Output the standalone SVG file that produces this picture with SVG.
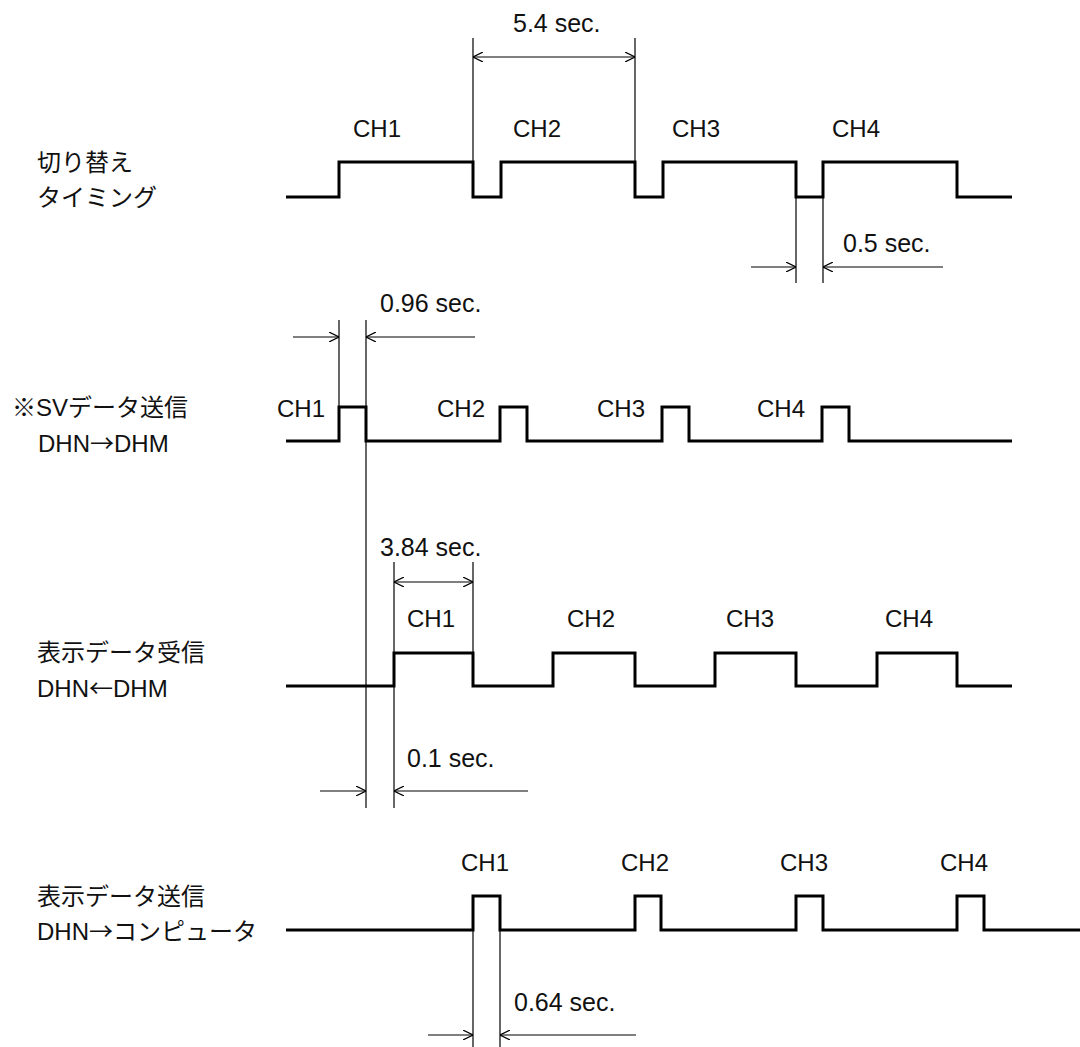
<svg xmlns="http://www.w3.org/2000/svg" width="1080" height="1047" viewBox="0 0 1080 1047">
<style>
.wave{fill:none;stroke:#000;stroke-width:3;stroke-linejoin:miter;stroke-linecap:butt}
.dim{fill:none;stroke:#000;stroke-width:1.2}
.lbl{font-family:"Liberation Sans","Noto Sans CJK JP",Arial,sans-serif;font-size:24px;fill:#111}
.sec{font-family:"Liberation Sans",Arial,sans-serif;font-size:25px;fill:#111}
.jp{font-family:"Liberation Sans","Noto Sans CJK JP",sans-serif;font-size:24px;fill:#111}
.arw{font-family:"Noto Sans CJK JP",sans-serif}
</style>
<defs>
<marker id="ah" viewBox="0 0 10 10" refX="10" refY="5" markerWidth="10" markerHeight="10" markerUnits="userSpaceOnUse" orient="auto-start-reverse">
<path d="M0,0 L10,5 L0,10" fill="none" stroke="#000" stroke-width="1.2"/>
</marker>
</defs>
<rect width="1080" height="1047" fill="#fff"/>

<g id="labels">
<text class="jp" x="37" y="171">切り替え</text>
<text class="jp" x="37" y="206">タイミング</text>
<text class="jp" x="12" y="416">※SVデータ送信</text>
<text class="jp" x="38" y="452">DHN<tspan class="arw">→</tspan>DHM</text>
<text class="jp" x="37" y="661">表示データ受信</text>
<text class="jp" x="37" y="697">DHN<tspan class="arw">←</tspan>DHM</text>
<text class="jp" x="37" y="905">表示データ送信</text>
<text class="jp" x="37" y="940">DHN<tspan class="arw">→</tspan>コンピュータ</text>
</g>

<g id="row1">
<path class="wave" d="M286,197 H339 V162 H473 V197 H501 V162 H635 V197 H663 V162 H796 V197 H823 V162 H957 V197 H1012"/>
<text class="lbl" x="353" y="137">CH1</text>
<text class="lbl" x="513" y="137">CH2</text>
<text class="lbl" x="672" y="137">CH3</text>
<text class="lbl" x="832" y="137">CH4</text>
</g>

<g id="row2">
<path class="wave" d="M286,441 H339 V407 H366 V441 H500 V407 H527 V441 H662 V407 H689 V441 H822 V407 H849 V441 H1012"/>
<text class="lbl" x="277" y="417">CH1</text>
<text class="lbl" x="437" y="417">CH2</text>
<text class="lbl" x="597" y="417">CH3</text>
<text class="lbl" x="757" y="417">CH4</text>
</g>

<g id="row3">
<path class="wave" d="M286,686 H394 V653 H473 V686 H553 V653 H635 V686 H715 V653 H796 V686 H877 V653 H957 V686 H1012"/>
<text class="lbl" x="407" y="627">CH1</text>
<text class="lbl" x="567" y="627">CH2</text>
<text class="lbl" x="726" y="627">CH3</text>
<text class="lbl" x="885" y="627">CH4</text>
</g>

<g id="row4">
<path class="wave" d="M286,930 H473 V896 H500 V930 H635 V896 H661 V930 H796 V896 H823 V930 H957 V896 H984 V930 H1080"/>
<text class="lbl" x="461" y="871">CH1</text>
<text class="lbl" x="621" y="871">CH2</text>
<text class="lbl" x="780" y="871">CH3</text>
<text class="lbl" x="940" y="871">CH4</text>
</g>

<g id="connectors">
<line class="dim" x1="473" y1="38" x2="473" y2="162"/>
<line class="dim" x1="635" y1="38" x2="635" y2="162"/>
<line class="dim" x1="473" y1="57" x2="635" y2="57" marker-start="url(#ah)" marker-end="url(#ah)"/>
<line class="dim" x1="796" y1="197" x2="796" y2="283"/>
<line class="dim" x1="823" y1="197" x2="823" y2="283"/>
<line class="dim" x1="751" y1="267" x2="796" y2="267" marker-end="url(#ah)"/>
<line class="dim" x1="943" y1="267" x2="823" y2="267" marker-end="url(#ah)"/>
<line class="dim" x1="339" y1="320" x2="339" y2="407"/>
<line class="dim" x1="366" y1="320" x2="366" y2="808"/>
<line class="dim" x1="293" y1="337" x2="339" y2="337" marker-end="url(#ah)"/>
<line class="dim" x1="475" y1="337" x2="366" y2="337" marker-end="url(#ah)"/>
<line class="dim" x1="394" y1="562" x2="394" y2="808"/>
<line class="dim" x1="473" y1="562" x2="473" y2="653"/>
<line class="dim" x1="394" y1="582" x2="473" y2="582" marker-start="url(#ah)" marker-end="url(#ah)"/>
<line class="dim" x1="320" y1="791" x2="366" y2="791" marker-end="url(#ah)"/>
<line class="dim" x1="528" y1="791" x2="394" y2="791" marker-end="url(#ah)"/>
<line class="dim" x1="473" y1="930" x2="473" y2="1047"/>
<line class="dim" x1="500" y1="930" x2="500" y2="1047"/>
<line class="dim" x1="428" y1="1035" x2="473" y2="1035" marker-end="url(#ah)"/>
<line class="dim" x1="636" y1="1035" x2="500" y2="1035" marker-end="url(#ah)"/>
</g>

<g id="dim-labels">
<text class="sec" x="513" y="32">5.4 sec.</text>
<text class="sec" x="843" y="252">0.5 sec.</text>
<text class="sec" x="380" y="312">0.96 sec.</text>
<text class="sec" x="380" y="556">3.84 sec.</text>
<text class="sec" x="407" y="767">0.1 sec.</text>
<text class="sec" x="514" y="1011">0.64 sec.</text>
</g>
</svg>
